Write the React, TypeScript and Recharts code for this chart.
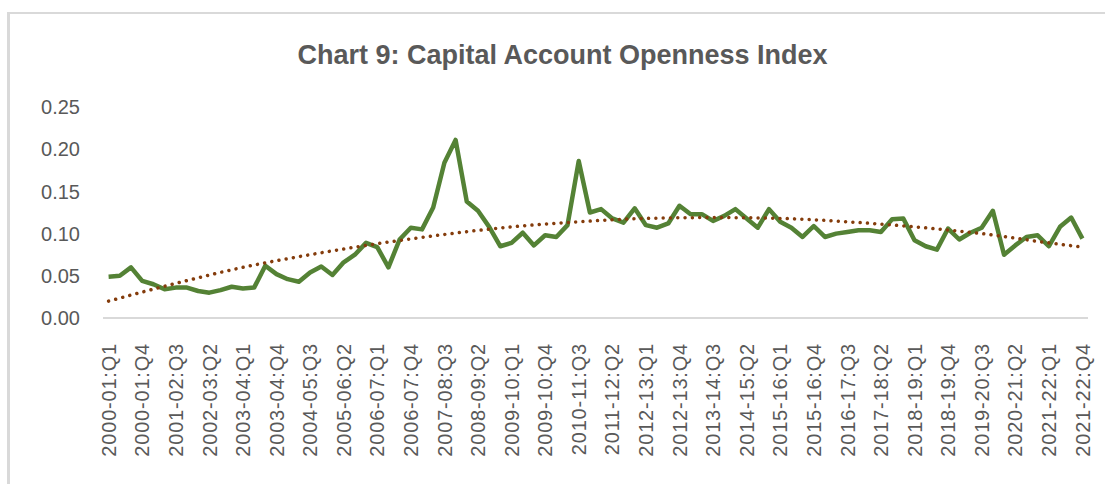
import React from "react";
import { LineChart, Line, XAxis, YAxis } from "recharts";

const fiscalYears = [
  "2000-01", "2001-02", "2002-03", "2003-04", "2004-05", "2005-06", "2006-07", "2007-08",
  "2008-09", "2009-10", "2010-11", "2011-12", "2012-13", "2013-14", "2014-15", "2015-16",
  "2016-17", "2017-18", "2018-19", "2019-20", "2020-21", "2021-22",
];
const quarters = ["Q1", "Q2", "Q3", "Q4"];
const categories: string[] = fiscalYears.flatMap((fy) => quarters.map((q) => `${fy}:${q}`));

const opennessIndex = [
  0.049, 0.050, 0.060, 0.044, 0.040, 0.034, 0.036, 0.036, 0.032, 0.030,
  0.033, 0.037, 0.035, 0.036, 0.062, 0.052, 0.046, 0.043, 0.054, 0.061,
  0.051, 0.066, 0.075, 0.089, 0.084, 0.060, 0.093, 0.107, 0.105, 0.131,
  0.184, 0.211, 0.138, 0.127, 0.108, 0.085, 0.089, 0.101, 0.086, 0.098,
  0.096, 0.110, 0.186, 0.125, 0.129, 0.118, 0.113, 0.130, 0.110, 0.107,
  0.112, 0.133, 0.123, 0.123, 0.115, 0.121, 0.129, 0.118, 0.107, 0.129,
  0.114, 0.107, 0.096, 0.109, 0.096, 0.100, 0.102, 0.104, 0.104, 0.102,
  0.117, 0.118, 0.092, 0.085, 0.081, 0.106, 0.093, 0.101, 0.107, 0.127,
  0.075, 0.086, 0.096, 0.098, 0.085, 0.108, 0.119, 0.094,
];

// Trendline values read at selected quarters (index -> value)
const trendIndex = [0, 6, 12, 18, 24, 30, 36, 42, 48, 54, 60, 66, 72, 78, 84, 87];
const trendValues = [0.020, 0.041, 0.060, 0.075, 0.088, 0.099, 0.108, 0.114, 0.118, 0.119, 0.118, 0.114, 0.108, 0.100, 0.089, 0.084];

const yTicks = [0, 0.05, 0.1, 0.15, 0.2, 0.25];

const data = categories.map((c, i) => {
  const k = trendIndex.indexOf(i);
  return { name: c, value: opennessIndex[i], trend: k >= 0 ? trendValues[k] : null };
});

const FONT = '"Liberation Sans", Arial, sans-serif';

const XTick = (props: any) => {
  const { x, y, payload } = props;
  return (
    <text
      x={x}
      y={y}
      transform={`rotate(-90, ${x}, ${y})`}
      textAnchor="end"
      dy="0.36em"
      fill="#595959"
      fontSize={20}
      letterSpacing={0.8}
      fontFamily={FONT}
    >
      {payload.value}
    </text>
  );
};

export default function App() {
  return (
    <div
      style={{
        position: "absolute",
        left: 0,
        top: 0,
        width: 1105,
        height: 484,
        background: "#fff",
        overflow: "hidden",
        fontFamily: FONT,
      }}
    >
      <div
        style={{
          position: "absolute",
          left: 7,
          top: 12,
          width: 1300,
          height: 700,
          borderTop: "2px solid #d9d9d9",
          borderLeft: "3px solid #d9d9d9",
        }}
      />
      <div
        style={{
          position: "absolute",
          left: 0,
          top: 42,
          width: 1125,
          textAlign: "center",
          fontSize: 27,
          lineHeight: "27px",
          fontWeight: "bold",
          color: "#595959",
        }}
      >
        Chart 9: Capital Account Openness Index
      </div>
      <div style={{ position: "absolute", left: 0, top: 0 }}>
        <LineChart
          width={1105}
          height={484}
          data={data}
          margin={{ top: 107, right: 17, bottom: 0, left: 43 }}
        >
          <XAxis
            dataKey="name"
            interval={2}
            padding={{ left: 5.6, right: 5.6 }}
            axisLine={{ stroke: "#d9d9d9", strokeWidth: 2 }}
            tickLine={false}
            tickSize={0}
            tickMargin={25}
            height={166}
            tick={<XTick />}
          />
          <YAxis
            domain={[0, 0.25]}
            ticks={yTicks}
            width={60}
            axisLine={false}
            tickLine={false}
            tickSize={0}
            tickMargin={23}
            tickFormatter={(v: number) => v.toFixed(2)}
            tick={{ fill: "#595959", fontSize: 20, fontFamily: FONT }}
          />
          <Line
            type="linear"
            dataKey="value"
            stroke="#548235"
            strokeWidth={4.5}
            strokeLinejoin="round"
            dot={false}
            activeDot={false}
            isAnimationActive={false}
          />
          <Line
            type="monotone"
            dataKey="trend"
            stroke="#843C0C"
            strokeWidth={3.5}
            strokeDasharray="0.001 7.3"
            strokeLinecap="round"
            connectNulls
            dot={false}
            activeDot={false}
            isAnimationActive={false}
          />
        </LineChart>
      </div>
    </div>
  );
}
